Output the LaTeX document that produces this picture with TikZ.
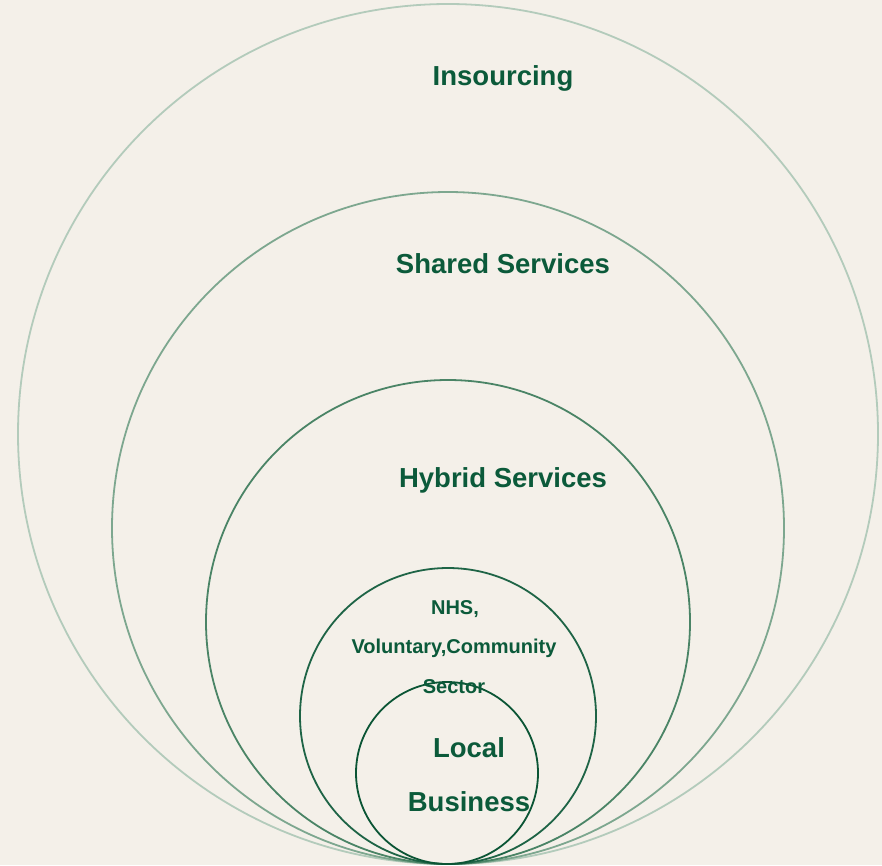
\documentclass[tikz,border=0pt]{standalone}
\usepackage{fontspec}
\setmainfont{Liberation Sans}
\definecolor{PaperBg}{HTML}{F4F0E9}
\definecolor{LabelGreen}{HTML}{0B5A3A}
\definecolor{RingOne}{HTML}{B3CBBB}
\definecolor{RingTwo}{HTML}{7DA78F}
\definecolor{RingThree}{HTML}{4A8466}
\definecolor{RingFour}{HTML}{1E6446}
\definecolor{RingFive}{HTML}{0B5535}
\tikzset{
  ring/.style={line width=1.8pt},
  biglabel/.style={text=LabelGreen, font=\bfseries\fontsize{27.5}{32}\selectfont},
  smalllabel/.style={text=LabelGreen, font=\bfseries\fontsize{20}{24}\selectfont}
}

\begin{document}
\begin{tikzpicture}[x=1pt, y=-1pt]

\fill [PaperBg] (0,0) rectangle (882,865);
\useasboundingbox (0,0) rectangle (882,865);

\draw [ring, RingOne]   (448,434) circle [radius=430];
\draw [ring, RingTwo]   (448,528) circle [radius=336];
\draw [ring, RingThree] (448,622) circle [radius=242];
\draw [ring, RingFour]  (448,716) circle [radius=148];
\draw [ring, RingFive]  (447,773) circle [radius=91];

\node [biglabel] (insourcing) at (503,78) {Insourcing};
\node [biglabel] (shared) at (503,264) {Shared Services};
\node [biglabel] (hybrid) at (503,480) {Hybrid Services};

\node [smalllabel] (nhs) at (455,609) {NHS,};
\node [smalllabel] (voluntary) at (454,648) {Voluntary,Community};
\node [smalllabel] (sector) at (454,687) {Sector};

\node [biglabel] (local) at (469,748) {Local};
\node [biglabel] (business) at (469,802) {Business};

\end{tikzpicture}
\end{document}
